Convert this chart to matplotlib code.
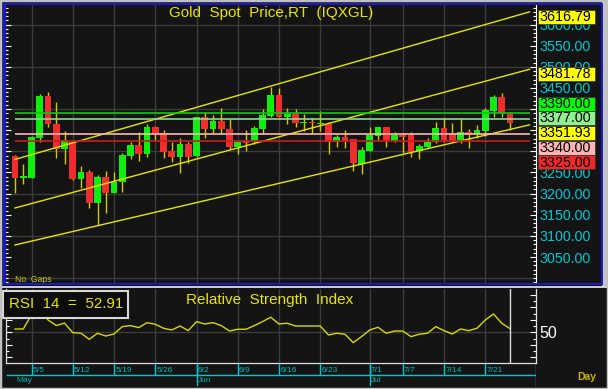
import matplotlib
matplotlib.use('Agg')
import matplotlib.pyplot as plt
from matplotlib.patches import Rectangle
from matplotlib.lines import Line2D
from matplotlib.ticker import FixedLocator, FuncFormatter
import numpy as np
import pandas as pd

# ---------------- data ----------------
dates = pd.bdate_range('2025-05-01', '2025-07-24')
opens = [3289, 3238, 3238, 3331, 3431, 3365, 3305, 3323, 3234, 3250,
         3177, 3240, 3202, 3228, 3289, 3315, 3294, 3358, 3343, 3301,
         3286, 3317, 3289, 3381, 3352, 3372, 3353, 3310, 3325, 3325,
         3354, 3384, 3433, 3382, 3388, 3366, 3370, 3365, 3365, 3323,
         3333, 3329, 3269, 3301, 3336, 3358, 3325, 3339, 3339, 3301,
         3311, 3323, 3356, 3343, 3327, 3345, 3340, 3349, 3396, 3429, 3388]
highs = [3291, 3270, 3337, 3435, 3440, 3416, 3347, 3327, 3266, 3256,
         3244, 3253, 3250, 3295, 3323, 3345, 3365, 3360, 3350, 3323,
         3331, 3323, 3382, 3392, 3386, 3403, 3376, 3325, 3350, 3361,
         3400, 3453, 3451, 3403, 3400, 3388, 3378, 3396, 3369, 3339,
         3350, 3329, 3311, 3358, 3358, 3358, 3345, 3343, 3345, 3317,
         3331, 3369, 3378, 3366, 3378, 3353, 3362, 3402, 3433, 3437, 3392]
lows = [3201, 3222, 3237, 3321, 3358, 3285, 3269, 3232, 3213, 3165,
        3126, 3153, 3201, 3203, 3282, 3278, 3287, 3327, 3284, 3275,
        3248, 3272, 3287, 3332, 3344, 3340, 3306, 3294, 3301, 3317,
        3340, 3382, 3381, 3364, 3357, 3348, 3340, 3347, 3294, 3311,
        3307, 3254, 3246, 3301, 3327, 3311, 3321, 3296, 3287, 3282,
        3307, 3319, 3323, 3321, 3319, 3309, 3332, 3337, 3381, 3382, 3351]
closes = [3236, 3242, 3333, 3431, 3364, 3305, 3328, 3234, 3250, 3177,
          3240, 3202, 3228, 3291, 3315, 3294, 3358, 3341, 3299, 3286,
          3317, 3287, 3381, 3352, 3372, 3352, 3310, 3323, 3320, 3356,
          3386, 3433, 3382, 3388, 3366, 3370, 3366, 3368, 3321, 3333,
          3325, 3272, 3303, 3339, 3358, 3327, 3339, 3334, 3299, 3313,
          3323, 3356, 3327, 3325, 3345, 3339, 3351, 3398, 3429, 3390, 3366]
rsi = [52.6, 52.6, 64.0, 70.0, 59.8, 55.4, 57.3, 49.7, 49.2, 44.4,
       49.2, 47.0, 48.6, 54.5, 55.3, 53.7, 57.7, 56.4, 53.2, 51.8,
       55.0, 51.3, 58.5, 56.6, 57.7, 55.3, 51.0, 52.4, 52.4, 55.3,
       58.5, 62.0, 56.6, 57.2, 55.0, 55.0, 55.0, 55.0, 47.8, 49.2,
       48.4, 41.7, 46.5, 51.8, 54.0, 49.2, 51.0, 51.0, 46.5, 48.4,
       49.2, 54.5, 51.3, 48.6, 52.6, 51.3, 53.2, 59.8, 64.6, 57.2, 52.91]
rsi_label = 'RSI  14  =  52.91'

week_ticks = ['5/5', '5/12', '5/19', '5/26', '6/2', '6/9', '6/16', '6/23',
              '7/1', '7/7', '7/14', '7/21']
month_names = ['May', 'Jun', 'Jul']
month_firsts = ['5/1', '6/2', '7/1']

trend_start = [3281.0, 3166.0, 3078.5]
trend_last = [3616.79, 3481.78, 3351.93]
level_values = [3390.00, 3377.00, 3340.00, 3325.00]
level_colors = ['#10c810', '#8cdc8c', '#ffb4b4', '#c81e1e']

label_values = [3616.79, 3481.78, 3390.00, 3377.00, 3351.93, 3340.00, 3325.00]
label_colors = ['#ffff00', '#ffff00', '#00ff00', '#90f090', '#ffff00', '#ffb4b4', '#f02828']

price_ticks = list(range(3050, 3601, 50))
hidden_price_labels = [3300, 3350, 3400]   # fully covered by the value boxes
grid_prices = list(range(3000, 3601, 100))

# ---------------- layout helpers ----------------
W, H = 608, 389
FONT = ['Liberation Sans', 'DejaVu Sans']
plt.rcParams['font.family'] = FONT
BG = '#141414'
GRID = '#3c3c3c'
YEL = '#e6e600'
CYAN = '#00c8d2'

fig = plt.figure(figsize=(W / 100, H / 100), dpi=100, facecolor=BG)


def fx(x):
    return x / W


def fy(y):
    return 1 - y / H


def rect(x0, y0, x1, y1):
    return [fx(x0), fy(y1), (x1 - x0) / W, (y1 - y0) / H]


def px2i(x):
    return (x - 15) / 8.25


def py2price(y):
    return 3550 - (y - 45.7) * 2.366


labels = [f"{d.month}/{d.day}" for d in dates]
x = np.arange(len(dates))
last = len(dates) - 1
x_end = px2i(529.5)
tick_idx = [labels.index(t) for t in week_ticks]
month_idx = [labels.index(t) for t in month_firsts]

# ---------------- main price panel ----------------
ax = fig.add_axes(rect(5, 4.5, 535.5, 283.5))
ax.set_facecolor(BG)
ax.set_xlim(px2i(5), px2i(535.5))
ax.set_ylim(py2price(283.5), py2price(4.5))
for p in grid_prices:
    ax.axhline(p, color=GRID, lw=1.0, zorder=1)
for t in tick_idx:
    ax.axvline(t, color=GRID, lw=1.0, zorder=1)

ax.set_xticks([])
ax.yaxis.set_major_locator(FixedLocator(price_ticks))
ax.yaxis.set_minor_locator(FixedLocator(list(range(2990, 3650, 10))))
ax.yaxis.set_major_formatter(FuncFormatter(
    lambda v, p: '' if round(v) in hidden_price_labels else f"{v:.2f}"))
ax.tick_params(axis='y', which='both', direction='in', left=True, right=True,
               labelleft=False, labelright=True, color='white')
ax.tick_params(axis='y', which='major', length=4, width=0.8,
               labelcolor=CYAN, labelsize=10.3, pad=2.5)
ax.tick_params(axis='y', which='minor', length=2, width=0.8)
for s in ['top', 'bottom']:
    ax.spines[s].set_visible(False)
ax.spines['left'].set_color('#1a1ad0')
ax.spines['right'].set_color('white')
ax.spines['right'].set_linewidth(0.8)

o = np.array(opens, float)
c = np.array(closes, float)
up = c >= o
body_bottom = np.minimum(o, c)
body_h = np.maximum(np.abs(c - o), 2.5)
ax.vlines(x, lows, highs, color='#d2c800', lw=1.0, zorder=3)
ax.bar(x, body_h, bottom=body_bottom, width=0.8,
       color=np.where(up, '#10ee10', '#f02c2c'), linewidth=0, zorder=4)

for s0, e0 in zip(trend_start, trend_last):
    slope = (e0 - s0) / last
    ax.plot([0, x_end], [s0, s0 + slope * x_end], color=YEL, lw=1.0, zorder=5)
ax.hlines(level_values, 0, x_end, colors=level_colors, lw=1.2, zorder=5)

# value boxes on the right axis
box_centers = [17.3, 73.7, 103.8, 118.3, 133.0, 147.8, 162.5]
for v, col, cy in zip(label_values, label_colors, box_centers):
    fig.add_artist(Rectangle((fx(537.5), fy(cy + 7)), 57.5 / W, 14 / H,
                             transform=fig.transFigure, facecolor=col,
                             edgecolor='#303030', lw=0.5, zorder=5))
    fig.text(fx(539), fy(cy), f"{v:.2f}", color='black', fontsize=10.3,
             va='center', ha='left', zorder=6)

fig.text(fx(271), fy(12.7), 'Gold  Spot  Price,RT  (IQXGL)', color=YEL,
         fontsize=11, ha='center', va='center')
fig.text(fx(15), fy(279.3), 'No  Gaps', color='#c8c800', fontsize=6.2,
         ha='left', va='center')

# ---------------- RSI panel ----------------
ax2 = fig.add_axes(rect(6, 289, 535.5, 363))
ax2.set_facecolor(BG)
ax2.set_xlim(px2i(6), px2i(535.5))
ax2.set_ylim(25.4, 84.6)
ax2.axhline(50, color=GRID, lw=1.0, zorder=1)
for t in tick_idx:
    ax2.axvline(t, color=GRID, lw=1.0, zorder=1)
ax2.plot(x, rsi, color='#d8d800', lw=1.0, zorder=3)
ax2.axvline(last, color='#e0e0e0', lw=1.0, zorder=4)
ax2.set_xticks([])
ax2.yaxis.set_major_locator(FixedLocator([30, 40, 50, 60, 70, 80]))
ax2.yaxis.set_minor_locator(FixedLocator([35, 45, 55, 65, 75]))
ax2.yaxis.set_major_formatter(FuncFormatter(lambda v, p: '50' if v == 50 else ''))
ax2.tick_params(axis='y', which='both', direction='in', left=True, right=True,
                labelleft=False, labelright=True, color='white')
ax2.tick_params(axis='y', which='major', length=4, width=0.8,
                labelcolor='white', labelsize=11.5, pad=2.5)
ax2.tick_params(axis='y', which='minor', length=2, width=0.8)
ax2.spines['top'].set_visible(False)
for s in ['left', 'bottom', 'right']:
    ax2.spines[s].set_color('#e0e0e0')
    ax2.spines[s].set_linewidth(0.9)

fig.add_artist(Rectangle((fx(3), fy(317.5)), 124.5 / W, 26.5 / H,
                         transform=fig.transFigure, facecolor='#0c0c0c',
                         edgecolor='#d8d8d8', lw=1.5, zorder=5))
fig.text(fx(9), fy(304.5), rsi_label, color=YEL, fontsize=10.9,
         ha='left', va='center', zorder=6)
fig.text(fx(270), fy(300), 'Relative  Strength  Index', color=YEL,
         fontsize=11, ha='center', va='center')

# ---------------- date axis ----------------
ax3 = fig.add_axes(rect(6, 363, 536, 386))
ax3.set_facecolor(BG)
x0d, x1d = px2i(6), px2i(536)
ax3.set_xlim(x0d, x1d)
ax3.set_ylim(23, 0)
ax3.axis('off')
ax3.vlines(tick_idx, 0, 12, color=CYAN, lw=1.0)
ax3.hlines(12, x0d, x1d, color=CYAN, lw=1.0)
ax3.vlines(month_idx[1:], 0, 23, color=CYAN, lw=1.0)
ax3.vlines([x1d - 0.05], 0, 23, color=CYAN, lw=1.0)
for t, lab in zip(tick_idx, week_ticks):
    ax3.text(t + 0.15, 7.3, lab, color='#00c0c0', fontsize=6, va='center', ha='left')
for mi, mn in zip(month_idx, month_names):
    ax3.text(mi + 0.15, 18, mn, color='#00b4b4', fontsize=6, va='center', ha='left')

fig.text(fx(577), fy(376.5), 'Day', color='#c8b400', fontsize=7.5,
         fontweight='bold', ha='left', va='center')

# ---------------- frames ----------------
fig.add_artist(Rectangle((fx(602), fy(287)), 6 / W, 287 / H,
                         transform=fig.transFigure, facecolor='#c4c4c4',
                         edgecolor='none', zorder=7))
fig.add_artist(Rectangle((fx(3.5), fy(284)), 598 / W, 280.5 / H,
                         transform=fig.transFigure, fill=False,
                         edgecolor='#1a1ad0', lw=1.4, zorder=7))
fig.add_artist(Line2D([0, 1], [fy(287), fy(287)], transform=fig.transFigure,
                      color='#d0d0d0', lw=1.4, zorder=7))
fig.add_artist(Rectangle((0, 0), 1, 1, transform=fig.transFigure, fill=False,
                         edgecolor='#c0c0c0', lw=2.5, zorder=8))

fig.savefig('out.png', dpi=100, facecolor=BG)
